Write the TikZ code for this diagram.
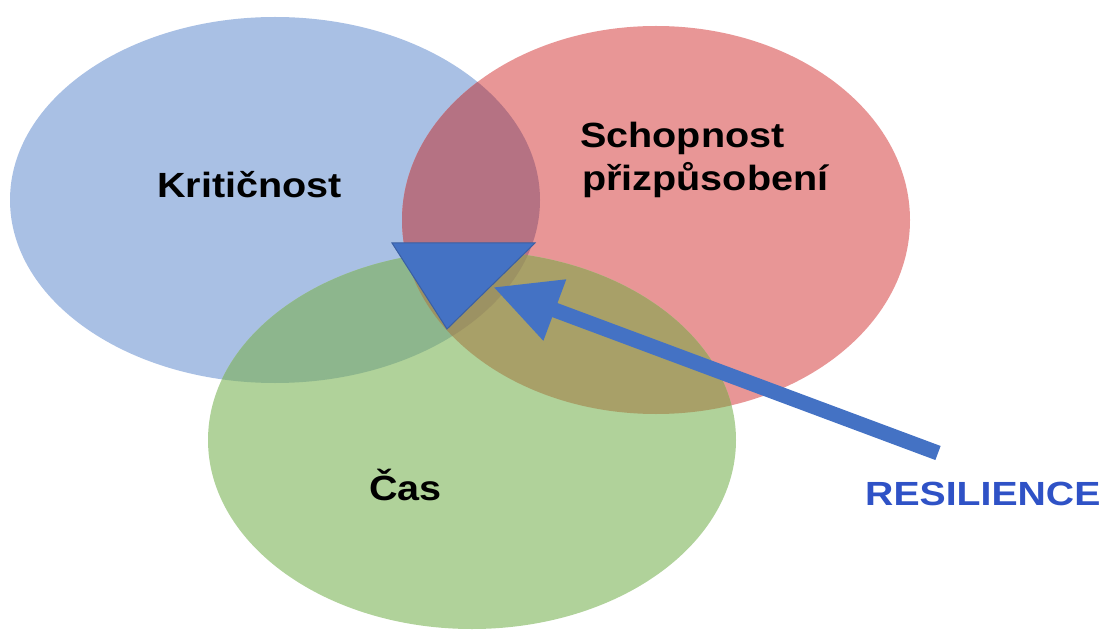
\documentclass[tikz,border=0pt]{standalone}
\usepackage{fontspec}
\setmainfont{Liberation Sans}
\usetikzlibrary{arrows.meta}
% region colours of the three-set Venn diagram
\definecolor{setK}{HTML}{A9C0E4}
\definecolor{setS}{HTML}{E89696}
\definecolor{setC}{HTML}{B0D29A}
\definecolor{setKS}{HTML}{B57283}
\definecolor{setKC}{HTML}{8DB68D}
\definecolor{setSC}{HTML}{A8A068}
\definecolor{setKSC}{HTML}{9C9263}
\definecolor{accent}{HTML}{4472C4}
\definecolor{accentdark}{HTML}{3A5FA3}
\definecolor{labelblue}{HTML}{2F52C6}
\begin{document}
\begin{tikzpicture}[x=1pt,y=-1pt,
  setlabel/.style={font=\bfseries\fontsize{35}{42}\selectfont, inner sep=0pt, anchor=base west, text=black},
  pointer/.style={draw=accent, line width=15pt, -{Triangle[width=61pt,length=66pt]}}]
\useasboundingbox (0,0) rectangle (1106,631);

% the three sets
\fill[setK] (275,200) ellipse [x radius=265, y radius=183];
\fill[setS] (656,220) ellipse [x radius=254, y radius=194];
\fill[setC] (472,440) ellipse [x radius=264, y radius=189];

% pairwise overlaps
\begin{scope}
  \clip (275,200) ellipse [x radius=265, y radius=183];
  \fill[setKS] (656,220) ellipse [x radius=254, y radius=194];
  \fill[setKC] (472,440) ellipse [x radius=264, y radius=189];
\end{scope}
\begin{scope}
  \clip (656,220) ellipse [x radius=254, y radius=194];
  \fill[setSC] (472,440) ellipse [x radius=264, y radius=189];
\end{scope}
% triple overlap
\begin{scope}
  \clip (275,200) ellipse [x radius=265, y radius=183];
  \clip (656,220) ellipse [x radius=254, y radius=194];
  \fill[setKSC] (472,440) ellipse [x radius=264, y radius=189];
\end{scope}

% centre marker
\draw[fill=accent, draw=accentdark, line width=1pt, line join=miter]
  (392,243) coordinate (tl) -- (535,243) coordinate (tr) -- (447,329) coordinate (tb) -- cycle;
\coordinate (core) at (493,287);

% set labels
\node[setlabel] (krit) at (157,198) {\scalebox{1.13}[1]{Kritičnost}};
\node[setlabel] (schop) at (580,148) {\scalebox{1.13}[1]{Schopnost}};
\node[setlabel] (prizp) at (582,191) {\scalebox{1.13}[1]{přizpůsobení}};
\node[setlabel] (cas) at (369,500) {\scalebox{1.13}[1]{Čas}};

% resilience pointer
\node[setlabel, text=labelblue, font=\bfseries\fontsize{33.5}{40}\selectfont] (res) at (865,505) {\scalebox{1.17}[1]{RESILIENCE}};
\coordinate (tail) at (938,453);
\draw[pointer] (tail) -- (core);
\end{tikzpicture}
\end{document}
